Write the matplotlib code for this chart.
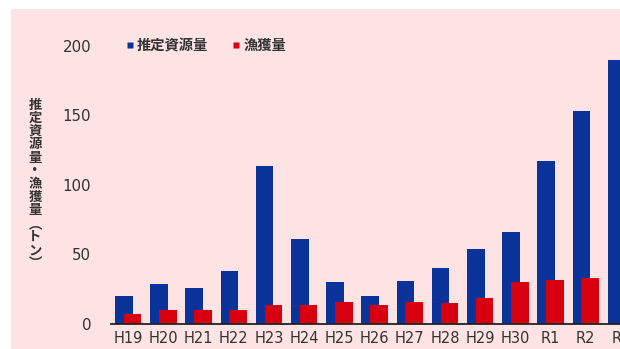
import numpy as np
import matplotlib
matplotlib.use("Agg")
import matplotlib.pyplot as plt
from matplotlib.patches import Rectangle
from matplotlib.lines import Line2D

# Fiscal years (Heisei / Reiwa)
years = ["H19", "H20", "H21", "H22", "H23", "H24", "H25", "H26",
         "H27", "H28", "H29", "H30", "R1", "R2", "R3"]
# Estimated stock biomass (t)
stock = [20, 29, 26, 38, 114, 61, 30, 20, 31, 40, 54, 66, 117, 153, 190]
# Catch (t)
catch = [7, 10, 10, 10, 14, 14, 16, 14, 16, 15, 19, 30, 32, 33, np.nan]

yticks = [0, 50, 100, 150, 200]
ylabel = "推定資源量・漁獲量︵トン︶"
legend_labels = ["推定資源量", "漁獲量"]

BLUE = "#0a3399"
RED = "#d8000f"
PINK = "#fde3e4"
TEXT = "#333333"
JP = ["Noto Sans CJK JP", "DejaVu Sans"]

fig = plt.figure(figsize=(6.2, 3.49), dpi=100)
fig.patch.set_facecolor("white")
fig.patches.append(Rectangle((11 / 620, 0), 1, (349 - 9) / 349,
                             transform=fig.transFigure, facecolor=PINK,
                             edgecolor="none", zorder=-10))

ax = fig.add_axes([110.6 / 620, 25 / 349, 528 / 620, 278 / 349])
ax.set_facecolor("none")

x = np.arange(len(years))
w = 0.5
ax.bar(x - 0.125, stock, width=w, color=BLUE, zorder=2, clip_on=False)
ax.bar(x + 0.125, catch, width=w, color=RED, zorder=3, clip_on=False)

ax.set_xlim(-0.5, len(years) - 0.5)
ax.set_ylim(0, 200)
ax.set_xticks(x)
ax.set_xticklabels(years, fontsize=10.5, color=TEXT, family="DejaVu Sans")
ax.set_yticks(yticks)
ax.set_yticklabels([str(v) for v in yticks], fontsize=10.8, color=TEXT,
                   family="DejaVu Sans")
ax.tick_params(axis="both", length=0)
ax.tick_params(axis="x", pad=5)
ax.tick_params(axis="y", pad=14)

for s in ["top", "right", "left"]:
    ax.spines[s].set_visible(False)
ax.spines["bottom"].set_color("#222222")
ax.spines["bottom"].set_linewidth(1.3)
ax.spines["bottom"].set_zorder(4)

# Vertical (stacked) axis title
fig.text(35 / 620, 1 - 184 / 349, "\n".join(ylabel), family=JP,
         fontsize=9.6, color=TEXT, weight="bold", ha="center", va="center",
         linespacing=0.93)

handles = [Line2D([], [], linestyle="none", marker="s", markersize=4,
                  markerfacecolor=c, markeredgecolor="none")
           for c in (BLUE, RED)]
leg = fig.legend(handles, legend_labels, loc="center left",
                 bbox_to_anchor=(120 / 620, 1 - 46 / 349), ncol=2,
                 frameon=False, handlelength=0.4, handletextpad=0.3,
                 columnspacing=1.75, borderpad=0,
                 prop={"family": JP, "size": 10.3, "weight": "bold"})
for t in leg.get_texts():
    t.set_color(TEXT)

fig.savefig("out.png", dpi=100)
